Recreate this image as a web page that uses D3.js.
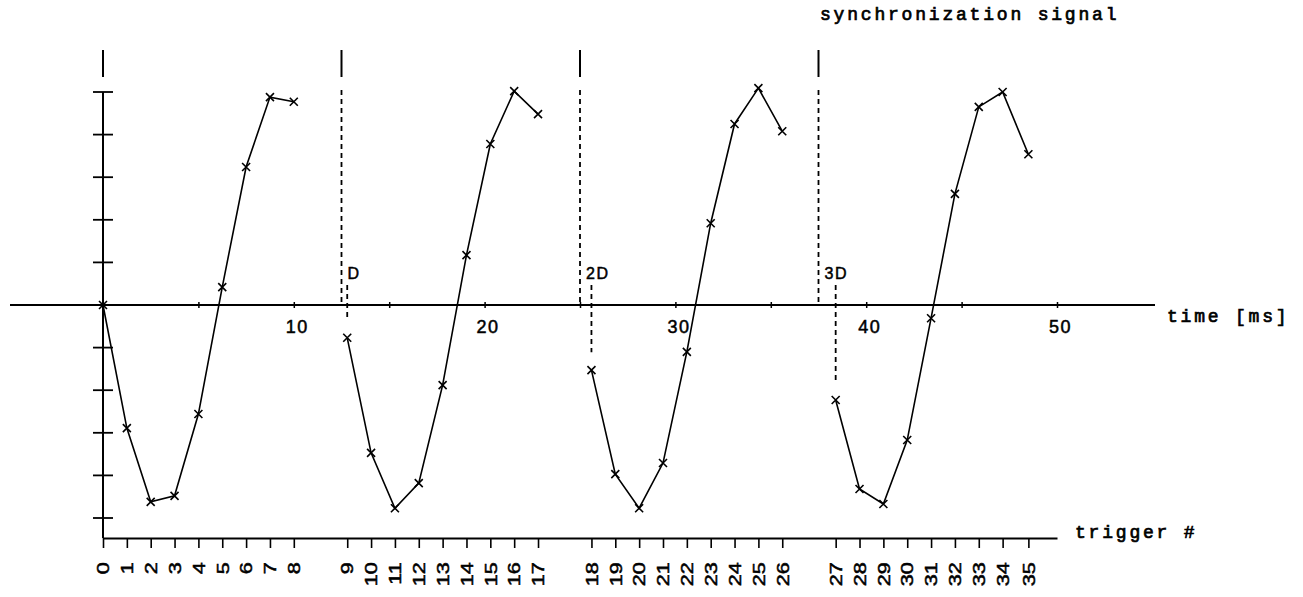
<!DOCTYPE html>
<html lang="en">
<head>
<meta charset="UTF-8" />
<title>Synchronization signal and triggers</title>
<style>
  body { margin: 0; background: #fff; }
  .mono { font-family: "Liberation Mono", "Courier New", monospace; letter-spacing: 2.8px; fill: #000; stroke: #000; stroke-width: 0.7px; }
  .sans { font-family: "Liberation Sans", Arial, sans-serif; fill: #000; stroke: #000; stroke-width: 0.5px; }
</style>
</head>
<body>
<script src="https://cdn.jsdelivr.net/npm/d3@7"></script>
<div id="app"></div>
<script>
// sync pulses (ms) and their delay labels
const syncTimes = [0, 12.5, 25, 37.5];
const delayLabels = ["", "D", "2D", "3D"];

// trigger instants (ms), 9 per sync period
const triggerTimes = [
  0, 1.25, 2.5, 3.75, 5, 6.25, 7.5, 8.75, 10,
  12.8, 14.05, 15.3, 16.55, 17.8, 19.05, 20.3, 21.55, 22.8,
  25.6, 26.85, 28.1, 29.35, 30.6, 31.85, 33.1, 34.35, 35.6,
  38.4, 39.65, 40.9, 42.15, 43.4, 44.65, 45.9, 47.15, 48.5
];
// sampled signal at each trigger
const signalValues = [
  0, -2.89, -4.62, -4.48, -2.56, 0.42, 3.24, 4.88, 4.77,
  -0.77, -3.47, -4.77, -4.18, -1.88, 1.17, 3.78, 5.02, 4.48,
  -1.53, -3.97, -4.77, -3.71, -1.10, 1.92, 4.25, 5.09, 4.08,
  -2.23, -4.32, -4.67, -3.17, -0.31, 2.61, 4.65, 5.0, 3.54
];
const timeTicks = [5, 10, 15, 20, 25, 30, 35, 40, 45, 50];
const yTicks = [-5, -4, -3, -2, -1, 1, 2, 3, 4, 5];
const perCycle = 9;

const w = 1303, h = 597;
const svg = d3.select("#app").append("svg")
  .attr("width", w).attr("height", h);

const x = d3.scaleLinear().domain([0, 50]).range([103, 1057]);
const y = d3.scaleLinear().domain([-5, 5]).range([518, 92]);
const y0 = y(0);
const trigY = 538;

const pts = triggerTimes.map((t, i) => ({ t, v: signalValues[i], i, c: Math.floor(i / perCycle) }));

//Time axis
svg.append("line")
  .attr("x1", 10).attr("x2", 1155)
  .attr("y1", y0).attr("y2", y0)
  .attr("stroke", "#000").attr("stroke-width", 2);

const tAxis = svg.append("g")
  .attr("transform", "translate(0," + y0 + ")")
  .call(d3.axisBottom(x).tickValues(timeTicks).tickSize(3).tickPadding(12)
    .tickFormat(d => d % 10 === 0 ? d : ""));
tAxis.select(".domain").remove();
tAxis.selectAll(".tick line").attr("y1", -3).attr("stroke-width", 1.5);
tAxis.selectAll(".tick text")
  .attr("class", "sans").attr("font-size", 18).attr("dx", 3)
  .attr("letter-spacing", 1.5);

svg.append("text").attr("class", "mono")
  .attr("x", 1167).attr("y", 322).attr("font-size", 18)
  .text("time [ms]");

//Vertical axis
svg.append("line")
  .attr("x1", x(0)).attr("x2", x(0))
  .attr("y1", y(5)).attr("y2", trigY)
  .attr("stroke", "#000").attr("stroke-width", 2);
svg.selectAll(".ytick")
  .data(yTicks).enter().append("line")
  .attr("class", "ytick")
  .attr("x1", x(0) - 10).attr("x2", x(0) + 10)
  .attr("y1", d => y(d)).attr("y2", d => y(d))
  .attr("stroke", "#000").attr("stroke-width", 1.8);

//Trigger axis
const trAxis = svg.append("g")
  .attr("transform", "translate(0," + trigY + ")")
  .call(d3.axisBottom(x).tickValues(triggerTimes).tickSize(10).tickSizeOuter(0)
    .tickFormat((d, i) => i));
trAxis.select(".domain").attr("stroke-width", 2);
trAxis.selectAll(".tick line").attr("stroke-width", 1.6);
trAxis.selectAll(".tick text")
  .attr("class", "sans").attr("font-size", 16)
  .attr("transform", "rotate(-90) scale(1.35,1)")
  .attr("text-anchor", "end")
  .attr("x", -18).attr("y", 0).attr("dy", "0.36em");

svg.append("text").attr("class", "mono")
  .attr("x", 1075).attr("y", 538).attr("font-size", 18)
  .text("trigger #");

//Synchronization signal
svg.selectAll(".sync")
  .data(syncTimes).enter().append("line")
  .attr("class", "sync")
  .attr("x1", d => x(d)).attr("x2", d => x(d))
  .attr("y1", 50).attr("y2", 77)
  .attr("stroke", "#000").attr("stroke-width", 2);

svg.append("text").attr("class", "mono")
  .attr("x", 820).attr("y", 20).attr("font-size", 18)
  .attr("letter-spacing", 3.1)
  .text("synchronization signal");

const later = syncTimes.slice(1);
svg.selectAll(".syncdash")
  .data(later).enter().append("line")
  .attr("x1", d => x(d)).attr("x2", d => x(d))
  .attr("y1", 90).attr("y2", y0)
  .attr("stroke", "#000").attr("stroke-width", 1.8)
  .attr("stroke-dasharray", "5,4");

// delay markers at first trigger of each later cycle
const firsts = pts.filter(p => p.c > 0 && p.i % perCycle === 0);
svg.selectAll(".delaydash")
  .data(firsts).enter().append("line")
  .attr("x1", d => x(d.t)).attr("x2", d => x(d.t))
  .attr("y1", 285).attr("y2", d => y(d.v) - 18)
  .attr("stroke", "#000").attr("stroke-width", 1.8)
  .attr("stroke-dasharray", "5,4");

svg.selectAll(".dlabel")
  .data(later).enter().append("text")
  .attr("class", "sans")
  .attr("x", d => x(d) + 6).attr("y", 279)
  .attr("font-size", 16).attr("letter-spacing", 1.5)
  .text((d, i) => delayLabels[i + 1]);

//Signal curves
const line = d3.line().x(d => x(d.t)).y(d => y(d.v));
const cycles = d3.groups(pts, d => d.c);
svg.selectAll(".curve")
  .data(cycles).enter().append("path")
  .attr("d", d => line(d[1]))
  .attr("fill", "none").attr("stroke", "#000").attr("stroke-width", 1.6);

svg.selectAll(".mark")
  .data(pts).enter().append("path")
  .attr("transform", d => "translate(" + x(d.t) + "," + y(d.v) + ")")
  .attr("d", "M-4,-4L4,4M-4,4L4,-4")
  .attr("stroke", "#000").attr("stroke-width", 1.6);
</script>
</body>
</html>
